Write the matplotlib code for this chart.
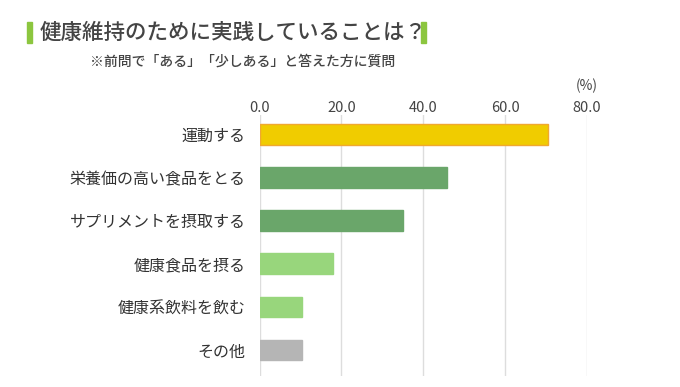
import matplotlib.pyplot as plt
import matplotlib.patches as mpatches

plt.rcParams['font.family'] = ['Noto Sans CJK JP', 'DejaVu Sans']

categories = ["運動する", "栄養価の高い食品をとる", "サプリメントを摂取する",
              "健康食品を摂る", "健康系飲料を飲む", "その他"]
values = [70.4, 45.8, 35.0, 18.0, 10.5, 10.5]
colors = ["#f0cc00", "#6aa66a", "#6aa66a", "#98d67c", "#98d67c", "#b5b5b5"]
edges = ["#f0a830", "#6aa66a", "#6aa66a", "#98d67c", "#98d67c", "#b5b5b5"]
ticks = [0, 20, 40, 60, 80]

W, H = 680, 387
fig = plt.figure(figsize=(W / 100, H / 100), dpi=100)
ax = fig.add_axes([259.5 / W, 1 - 376 / H, (587 - 259.5) / W, (376 - 115) / H])

y = list(range(len(categories)))
ax.barh(y, values, height=0.48, color=colors, edgecolor=edges, linewidth=1, zorder=3)
ax.set_ylim(len(categories) - 0.4, -0.45)
ax.set_xlim(0, 80)
ax.set_xticks(ticks)
ax.set_xticklabels([f"{t:.1f}" for t in ticks], fontsize=10.5, color="#444444")
ax.xaxis.tick_top()
ax.tick_params(axis="x", length=0, pad=0)
ax.set_yticks(y)
ax.set_yticklabels(categories, fontsize=11.5, color="#333333")
ax.tick_params(axis="y", length=0, pad=10)
ax.grid(axis="x", color="#dddddd", linewidth=1, zorder=0)
for s in ax.spines.values():
    s.set_visible(False)
ax.text(80, -0.95, "(%)", ha="center", va="bottom", fontsize=10, color="#444444")

# title with green markers
fig.patches.append(mpatches.Rectangle((27 / W, 1 - 43 / H), 5 / W, 21 / H,
                                      transform=fig.transFigure, color="#8cc63f"))
fig.patches.append(mpatches.Rectangle((421 / W, 1 - 43 / H), 5 / W, 21 / H,
                                      transform=fig.transFigure, color="#8cc63f"))
fig.text(40 / W, 1 - 33 / H, "健康維持のために実践していることは？", fontsize=15.5,
         fontweight="medium", color="#444444", va="center")
fig.text(90 / W, 1 - 62 / H, "※前問で「ある」「少しある」と答えた方に質問", fontsize=10,
         fontweight="medium", color="#444444", va="center")

fig.savefig("out.png", dpi=100)
